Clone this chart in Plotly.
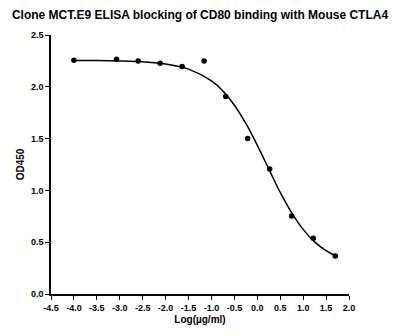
import plotly.graph_objects as go

# Measured data points (log concentration, OD450)
log_conc = [-4.0, -3.07, -2.60, -2.12, -1.64, -1.16, -0.69, -0.21, 0.27, 0.75, 1.22, 1.70]
od450 = [2.257, 2.267, 2.248, 2.228, 2.197, 2.248, 1.907, 1.50, 1.206, 0.752, 0.538, 0.366]

# Fitted curve
curve_x = [-4.0, -3.5, -3.0, -2.5, -2.0, -1.5, -1.0, -0.75, -0.5, -0.25, 0.0, 0.25, 0.5, 0.75, 1.0, 1.25, 1.5, 1.7]
curve_y = [2.254, 2.253, 2.249, 2.241, 2.221, 2.171, 2.057, 1.96, 1.822, 1.646, 1.435, 1.207, 0.98, 0.784, 0.624, 0.503, 0.418, 0.369]

# Tick labels
x_tickvals = [-4.5, -4.0, -3.5, -3.0, -2.5, -2.0, -1.5, -1.0, -0.5, 0.0, 0.5, 1.0, 1.5, 2.0]
x_ticktext = ["-4.5", "-4.0", "-3.5", "-3.0", "-2.5", "-2.0", "-1.5", "-1.0", "-0.5", "0.0", "0.5", "1.0", "1.5", "2.0"]
y_tickvals = [0.0, 0.5, 1.0, 1.5, 2.0, 2.5]
y_ticktext = ["0.0", "0.5", "1.0", "1.5", "2.0", "2.5"]

title_text = "Clone MCT.E9 ELISA blocking of CD80 binding with Mouse CTLA4"
x_title = "Log(µg/ml)"
y_title = "OD450"

fig = go.Figure()
fig.add_trace(go.Scatter(x=curve_x, y=curve_y, mode="lines",
                         line=dict(color="black", width=1.5, shape="spline"),
                         hoverinfo="skip", showlegend=False))
fig.add_trace(go.Scatter(x=log_conc, y=od450, mode="markers",
                         marker=dict(color="black", size=5.5),
                         showlegend=False))

font_family = "Liberation Sans, Arial, sans-serif"
fig.update_layout(
    width=400, height=336,
    margin=dict(l=51, r=51, t=35, b=39),
    paper_bgcolor="white", plot_bgcolor="white",
    title=dict(text="<b>" + title_text + "</b>", x=0.5, xanchor="center",
               y=1 - 15 / 336, yanchor="middle",
               font=dict(family=font_family, size=12, color="black")),
    font=dict(family=font_family, color="black"),
)
fig.update_xaxes(
    range=[-4.5, 2.0], tickmode="array", tickvals=x_tickvals,
    ticktext=["<b>" + t + "</b>" for t in x_ticktext],
    showgrid=False, zeroline=False, showline=True, linecolor="black", linewidth=1.5,
    ticks="outside", ticklen=4, tickwidth=1.2, tickcolor="black",
    tickfont=dict(family=font_family, size=9, color="black"),
    title=dict(text="<b>" + x_title + "</b>", standoff=4,
               font=dict(family=font_family, size=10, color="black")),
)
fig.update_yaxes(
    range=[0, 2.5], tickmode="array", tickvals=y_tickvals,
    ticktext=["<b>" + t + "</b>" for t in y_ticktext],
    showgrid=False, zeroline=False, showline=True, linecolor="black", linewidth=1.5,
    ticks="outside", ticklen=4, tickwidth=1.2, tickcolor="black",
    tickfont=dict(family=font_family, size=9, color="black"),
    title=dict(text="<b>" + y_title + "</b>", standoff=4,
               font=dict(family=font_family, size=10, color="black")),
)

fig.write_html("out.html")
